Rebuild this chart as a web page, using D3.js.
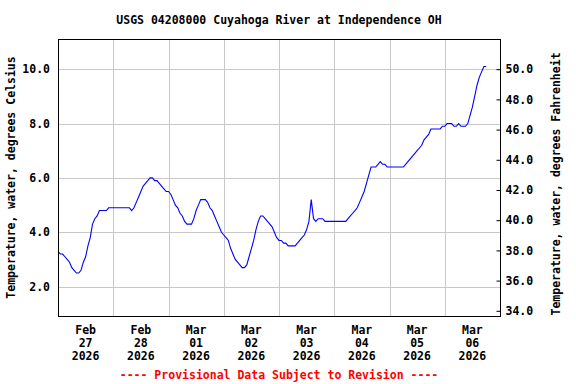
<!DOCTYPE html>
<html>
<head>
<meta charset="utf-8">
<script src="https://cdn.jsdelivr.net/npm/d3@7"></script>
<style>
    body { margin: 0; background: #ffffff; }
    text { font-family: "DejaVu Sans Mono", "Liberation Mono", monospace; font-weight: bold; font-size: 11.5px; fill: #000; }
</style>
</head>
<body>
<div id="usgs-chart"></div>
<script>
// hourly water temperature (deg C), one array per day starting 00:00
var vDays = ["2026-02-27", "2026-02-28", "2026-03-01", "2026-03-02",
             "2026-03-03", "2026-03-04", "2026-03-05", "2026-03-06"];
var vFeb27 = [3.3, 3.2, 3.2, 3.1, 3.0, 2.9, 2.7, 2.6, 2.5, 2.5, 2.6, 2.9, 3.1, 3.5, 3.8, 4.3, 4.5, 4.6, 4.8, 4.8, 4.8, 4.8, 4.9, 4.9];
var vFeb28 = [4.9, 4.9, 4.9, 4.9, 4.9, 4.9, 4.9, 4.9, 4.8, 4.9, 5.1, 5.3, 5.5, 5.7, 5.8, 5.9, 6.0, 6.0, 5.9, 5.9, 5.8, 5.7, 5.6, 5.5];
var vMar01 = [5.5, 5.4, 5.2, 5.0, 4.9, 4.7, 4.6, 4.4, 4.3, 4.3, 4.3, 4.5, 4.8, 5.0, 5.2, 5.2, 5.2, 5.1, 4.9, 4.8, 4.6, 4.4, 4.2, 4.0];
var vMar02 = [3.9, 3.8, 3.7, 3.4, 3.2, 3.0, 2.9, 2.8, 2.7, 2.7, 2.8, 3.1, 3.4, 3.7, 4.1, 4.4, 4.6, 4.6, 4.5, 4.4, 4.3, 4.2, 4.0, 3.8];
var vMar03 = [3.7, 3.7, 3.6, 3.6, 3.5, 3.5, 3.5, 3.5, 3.6, 3.7, 3.8, 3.9, 4.1, 4.4, 5.2, 4.5, 4.4, 4.5, 4.5, 4.5, 4.4, 4.4, 4.4, 4.4];
var vMar04 = [4.4, 4.4, 4.4, 4.4, 4.4, 4.4, 4.5, 4.6, 4.7, 4.8, 4.9, 5.1, 5.3, 5.5, 5.8, 6.1, 6.4, 6.4, 6.4, 6.5, 6.6, 6.5, 6.5, 6.4];
var vMar05 = [6.4, 6.4, 6.4, 6.4, 6.4, 6.4, 6.4, 6.5, 6.6, 6.7, 6.8, 6.9, 7.0, 7.1, 7.2, 7.4, 7.5, 7.6, 7.8, 7.8, 7.8, 7.8, 7.8, 7.9];
var vMar06 = [7.9, 8.0, 8.0, 8.0, 7.9, 7.9, 8.0, 7.9, 7.9, 7.9, 8.0, 8.3, 8.6, 9.0, 9.4, 9.7, 9.9, 10.1, 10.1];
var vTempByDay = [vFeb27, vFeb28, vMar01, vMar02, vMar03, vMar04, vMar05, vMar06];

// tick labels
var vDayLabels = [["Feb", "27", "2026"], ["Feb", "28", "2026"], ["Mar", "01", "2026"], ["Mar", "02", "2026"],
                  ["Mar", "03", "2026"], ["Mar", "04", "2026"], ["Mar", "05", "2026"], ["Mar", "06", "2026"]];
var vCelsiusTicks = [2, 4, 6, 8, 10];
var vFahrenheitTicks = [34, 36, 38, 40, 42, 44, 46, 48, 50];

var vTitle = "USGS 04208000 Cuyahoga River at Independence OH";
var vLeftLabel = "Temperature, water, degrees Celsius";
var vRightLabel = "Temperature, water, degrees Fahrenheit";
var vFootnote = "---- Provisional Data Subject to Revision ----";

// set the dimensions of the plot box
var vBox = { mLeft: 58, mRight: 500, mTop: 39, mBottom: 316 };

var svg = d3.select("#usgs-chart")
    .append("svg")
    .attr("width", 576)
    .attr("height", 384);

var parseDay = d3.timeParse("%Y-%m-%d");

// flatten the daily arrays into time/value points
var vData = [];
vTempByDay.forEach(function (aDay, aIdx) {
    var vStart = parseDay(vDays[aIdx]);
    aDay.forEach(function (aValue, aHour) {
        vData.push({ t: d3.timeHour.offset(vStart, aHour), v: aValue });
    });
});

var vXStart = parseDay(vDays[0]);
var vXEnd = d3.timeDay.offset(parseDay(vDays[vDays.length - 1]), 1);

var x = d3.scaleTime()
    .domain([vXStart, vXEnd])
    .range([vBox.mLeft, vBox.mRight]);

var yC = d3.scaleLinear()
    .domain([0.92, 11.11])
    .range([vBox.mBottom, vBox.mTop]);

var yF = d3.scaleLinear()
    .domain(yC.domain().map(function (c) { return c * 1.8 + 32; }))
    .range([vBox.mBottom, vBox.mTop]);

// grid
var vMidnights = vDays.slice(1).map(parseDay);
svg.append("g")
    .selectAll("line")
    .data(vMidnights)
    .enter()
    .append("line")
    .attr("x1", function (d) { return Math.round(x(d)) + 0.5; })
    .attr("x2", function (d) { return Math.round(x(d)) + 0.5; })
    .attr("y1", vBox.mTop)
    .attr("y2", vBox.mBottom)
    .attr("stroke", "#c8c8c8");

svg.append("g")
    .selectAll("line")
    .data(vCelsiusTicks)
    .enter()
    .append("line")
    .attr("x1", vBox.mLeft)
    .attr("x2", vBox.mRight)
    .attr("y1", function (d) { return Math.round(yC(d)) + 0.5; })
    .attr("y2", function (d) { return Math.round(yC(d)) + 0.5; })
    .attr("stroke", "#c8c8c8");

// the temperature line
var line = d3.line()
    .x(function (d) { return x(d.t); })
    .y(function (d) { return yC(d.v); });

svg.append("path")
    .datum(vData)
    .attr("d", line)
    .attr("fill", "none")
    .attr("stroke", "#0000ff")
    .attr("stroke-width", 1.1);

// frame
svg.append("rect")
    .attr("x", vBox.mLeft + 0.5)
    .attr("y", vBox.mTop + 0.5)
    .attr("width", vBox.mRight - vBox.mLeft)
    .attr("height", vBox.mBottom - vBox.mTop)
    .attr("fill", "none")
    .attr("stroke", "#000");

// left axis (celsius)
var vLeftAxis = d3.axisLeft(yC)
    .tickValues(vCelsiusTicks)
    .tickSize(0)
    .tickPadding(8)
    .tickFormat(d3.format(".1f"));
svg.append("g")
    .attr("transform", "translate(" + vBox.mLeft + ",0)")
    .call(vLeftAxis)
    .call(function (g) { g.select(".domain").remove(); })
    .selectAll("text")
    .attr("font-family", null)
    .attr("font-size", null);

// right axis (fahrenheit), ticks point inwards
var vRightAxis = d3.axisRight(yF)
    .tickValues(vFahrenheitTicks)
    .tickSizeInner(-4)
    .tickSizeOuter(0)
    .tickPadding(5)
    .tickFormat(d3.format(".1f"));
svg.append("g")
    .attr("transform", "translate(" + (vBox.mRight + 0.5) + ",0)")
    .call(vRightAxis)
    .call(function (g) { g.select(".domain").remove(); })
    .call(function (g) { g.selectAll("line").attr("stroke", "#000"); })
    .selectAll("text")
    .attr("font-family", null)
    .attr("font-size", null);

// day labels centred at noon, three lines each
var vNoons = vDays.map(function (d) { return d3.timeHour.offset(parseDay(d), 12); });
var vDayText = svg.append("g")
    .selectAll("text")
    .data(vNoons)
    .enter()
    .append("text")
    .attr("text-anchor", "middle")
    .attr("x", function (d) { return x(d); })
    .attr("y", 334);
vDayText.selectAll("tspan")
    .data(function (d, i) { return vDayLabels[i]; })
    .enter()
    .append("tspan")
    .attr("x", function () { return x(d3.select(this.parentNode).datum()); })
    .attr("dy", function (d, i) { return i === 0 ? 0 : 13; })
    .text(function (d) { return d; });

// titles
svg.append("text")
    .attr("x", (vBox.mLeft + vBox.mRight) / 2)
    .attr("y", 24)
    .attr("text-anchor", "middle")
    .text(vTitle);

svg.append("text")
    .attr("transform", "translate(15," + ((vBox.mTop + vBox.mBottom) / 2) + ")rotate(-90)")
    .attr("text-anchor", "middle")
    .text(vLeftLabel);

svg.append("text")
    .attr("transform", "translate(560,184)rotate(-90)")
    .attr("text-anchor", "middle")
    .text(vRightLabel);

svg.append("text")
    .attr("x", (vBox.mLeft + vBox.mRight) / 2)
    .attr("y", 379)
    .attr("text-anchor", "middle")
    .style("fill", "#ff0000")
    .text(vFootnote);
</script>
</body>
</html>
